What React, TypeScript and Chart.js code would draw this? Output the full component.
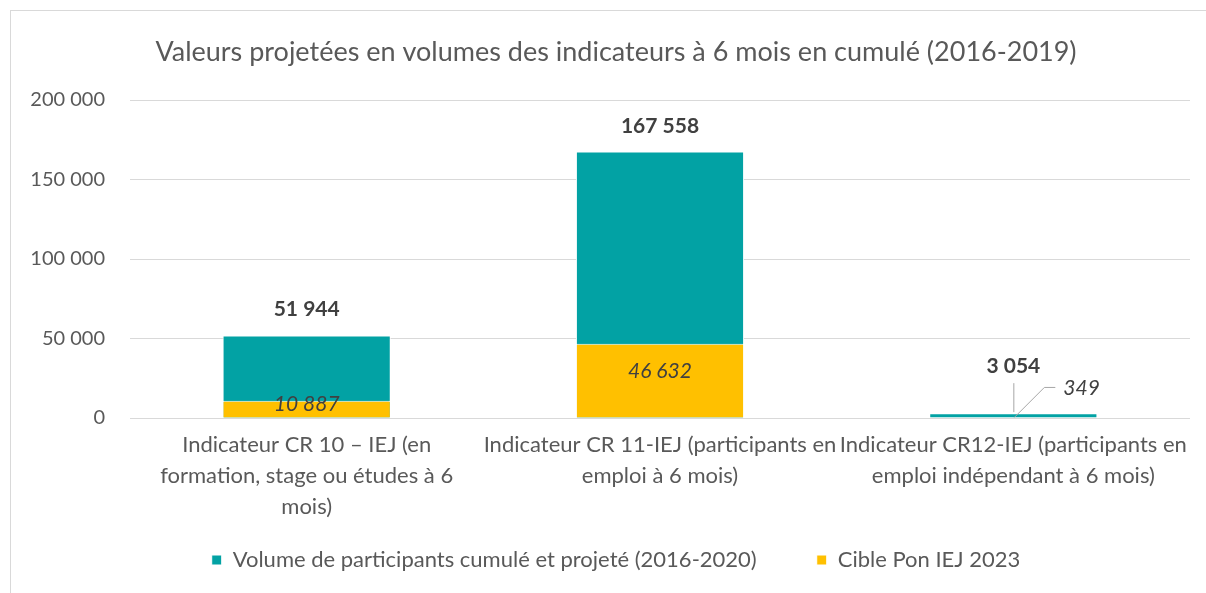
import React, { useEffect, useRef } from "react";
import { Chart, registerables } from "chart.js";

Chart.register(...registerables);

const categories: string[][] = [
  ["Indicateur CR 10 – IEJ (en", "formation, stage ou études à 6", "mois)"],
  ["Indicateur CR 11-IEJ (participants en", "emploi à 6 mois)"],
  ["Indicateur CR12-IEJ (participants en", "emploi indépendant à 6 mois)"],
];
const volumeValues = [51944, 167558, 3054];
const cibleValues = [10887, 46632, 349];
const seriesNames = ["Volume de participants cumulé et projeté (2016-2020)", "Cible Pon IEJ 2023"];
const chartTitle = "Valeurs projetées en volumes des indicateurs à 6 mois en cumulé (2016-2019)";
const yMax = 200000;
const yStep = 50000;

const TEAL = "#02A2A4";
const YELLOW = "#FFC000";
const FONT = "Lato";

const fmt = (n: number) => String(Math.round(n)).replace(/\B(?=(\d{3})+(?!\d))/g, " ");

// label offsets (style)
const boldOffsets = [26, 25, 47];
const italicOffsets = [-4, -27, 30];
const LEGEND_TOP = 478;

const labelPlugin = {
  id: "valueLabels",
  afterLayout(chart: any) {
    const lg = chart.legend;
    if (lg) {
      const d = LEGEND_TOP - lg.top;
      lg.top += d;
      lg.bottom += d;
    }
  },
  afterDatasetsDraw(chart: any) {
    const ctx = chart.ctx as CanvasRenderingContext2D;
    const ys = chart.scales.y;
    const metaV = chart.getDatasetMeta(0);
    ctx.save();
    ctx.textBaseline = "middle";
    volumeValues.forEach((v, i) => {
      const x = metaV.data[i].x;
      const top = ys.getPixelForValue(v);
      const ly = top - boldOffsets[i];
      ctx.font = `bold 21px ${FONT}`;
      ctx.fillStyle = "#404040";
      ctx.textAlign = "center";
      ctx.fillText(fmt(v), x, ly);
      if (i === 2) {
        ctx.strokeStyle = "#a6a6a6";
        ctx.lineWidth = 1;
        ctx.beginPath();
        ctx.moveTo(x + 0.5, ly + 17);
        ctx.lineTo(x + 0.5, top - 1);
        ctx.stroke();
      }
    });
    cibleValues.forEach((v, i) => {
      const x = metaV.data[i].x;
      const top = ys.getPixelForValue(v);
      ctx.font = `italic 21px ${FONT}`;
      ctx.fillStyle = "#404040";
      if (i === 2) {
        const ly = top - italicOffsets[i];
        ctx.strokeStyle = "#a6a6a6";
        ctx.lineWidth = 1;
        ctx.beginPath();
        ctx.moveTo(x + 1, top);
        ctx.lineTo(x + 31, ly);
        ctx.lineTo(x + 42, ly);
        ctx.stroke();
        ctx.textAlign = "left";
        ctx.fillText(fmt(v), x + 50, ly + 1);
      } else {
        ctx.textAlign = "center";
        ctx.fillText(fmt(v), x, top - italicOffsets[i]);
      }
    });
    ctx.restore();
  },
};

export default function App() {
  const ref = useRef<HTMLCanvasElement>(null);
  useEffect(() => {
    if (!ref.current) return;
    const chart = new Chart(ref.current, {
      type: "bar",
      data: {
        labels: categories,
        datasets: [
          {
            label: seriesNames[0],
            data: volumeValues,
            backgroundColor: TEAL,
            borderColor: "#ffffff",
            borderWidth: 1,
            order: 1,
          },
          {
            label: seriesNames[1],
            data: cibleValues,
            backgroundColor: YELLOW,
            borderColor: "#ffffff",
            borderWidth: 1,
            order: 0,
          },
        ],
      },
      options: {
        animation: false,
        responsive: false,
        devicePixelRatio: 1,
        layout: { padding: { left: 0, right: 0, top: 0, bottom: -27 } },
        datasets: { bar: { categoryPercentage: 1, barPercentage: 0.476 } },
        plugins: {
          tooltip: { enabled: false },
          title: {
            display: true,
            text: chartTitle,
            color: "#595959",
            font: { family: FONT, size: 27, weight: "normal", lineHeight: 1.2 },
            padding: { top: 25, bottom: 31.6 },
          },
          legend: {
            position: "bottom",
            labels: {
              color: "#595959",
              font: { family: FONT, size: 22 },
              boxWidth: 10,
              boxHeight: 10,
              padding: 60,
              sort: (a: any, b: any) => a.datasetIndex - b.datasetIndex,
            },
          },
        },
        scales: {
          x: {
            stacked: true,
            grid: { display: false },
            border: { display: false },
            ticks: {
              color: "#595959",
              font: { family: FONT, size: 22, lineHeight: 31 / 22 },
              padding: 3.5,
              maxRotation: 0,
              minRotation: 0,
              autoSkip: false,
            },
            afterFit: (s: any) => {
              s.height = 110;
            },
          },
          y: {
            stacked: false,
            min: 0,
            max: yMax,
            grid: { color: "#d9d9d9", lineWidth: 1, drawTicks: false },
            border: { display: false },
            ticks: {
              stepSize: yStep,
              color: "#595959",
              font: { family: FONT, size: 20 },
              padding: 25,
              callback: (v: any) => fmt(Number(v)),
            },
            afterFit: (s: any) => {
              s.width = 119;
            },
          },
          yRight: {
            type: "linear",
            position: "right",
            display: true,
            grid: { display: false, drawTicks: false },
            border: { display: false },
            ticks: { display: false },
            afterFit: (s: any) => {
              s.width = 31;
            },
          },
        },
      },
      plugins: [labelPlugin],
    } as any);
    return () => chart.destroy();
  }, []);

  return (
    <div style={{ position: "fixed", left: 0, top: 0, width: "100vw", height: "100vh", overflow: "hidden", background: "#fff" }}>
      <div
        style={{
          position: "absolute",
          left: 10,
          top: 10,
          width: 1230,
          height: 640,
          border: "1px solid #d9d9d9",
          boxSizing: "border-box",
        }}
      />
      <canvas
        ref={ref}
        width={1210}
        height={582}
        style={{ position: "absolute", left: 11, top: 11, width: 1210, height: 582 }}
      />
    </div>
  );
}
